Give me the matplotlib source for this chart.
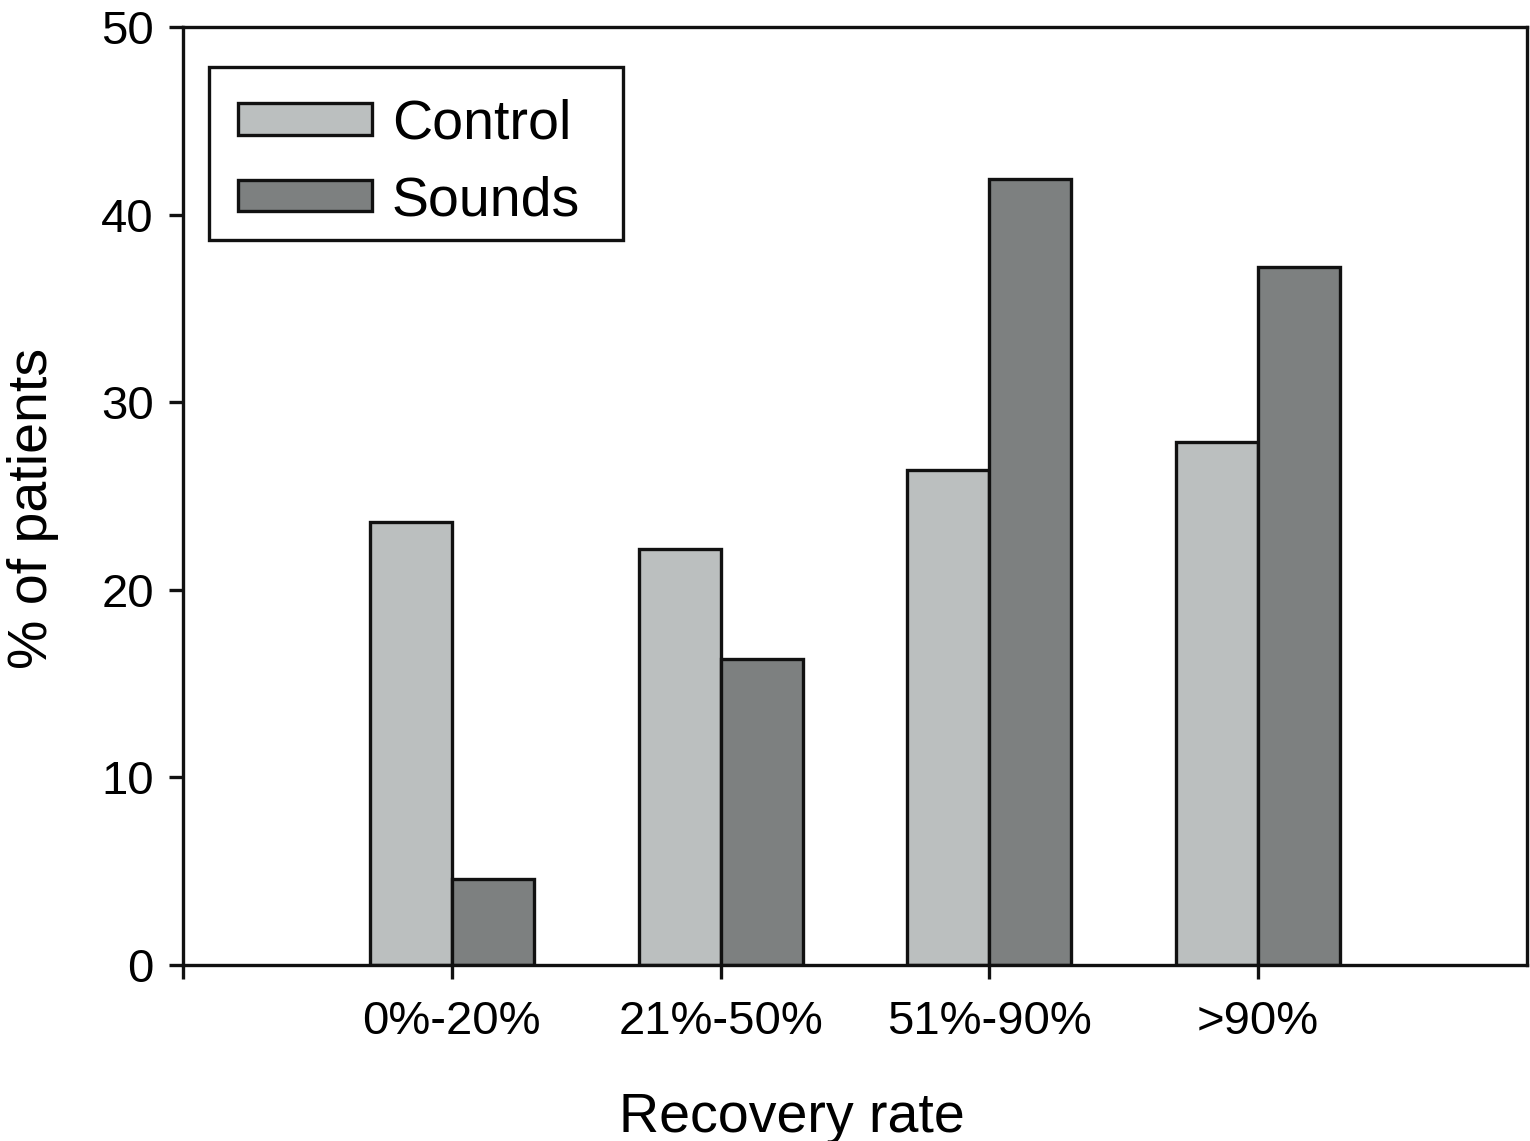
import matplotlib
matplotlib.use("Agg")
import matplotlib.pyplot as plt
from matplotlib.patches import Rectangle
import numpy as np

categories = ["0%-20%", "21%-50%", "51%-90%", ">90%"]
control = [23.6, 22.2, 26.4, 27.9]
sounds = [4.6, 16.3, 41.9, 37.2]
yticks = [0, 10, 20, 30, 40, 50]

plt.rcParams['font.family'] = ['Liberation Sans', 'DejaVu Sans']

fig = plt.figure(figsize=(15.3, 11.41), dpi=100)
ax = fig.add_axes([0.1196, 0.1543, 0.998 - 0.1196, 0.9763 - 0.1543])

x = np.arange(1, len(categories) + 1)
w = 0.305
lw = 2.4
ax.bar(x - w / 2, control, w, color="#bbbfbf", edgecolor="#111111", linewidth=lw, label="Control", zorder=2)
ax.bar(x + w / 2, sounds, w, color="#7d8080", edgecolor="#111111", linewidth=lw, label="Sounds", zorder=2)

ax.set_xlim(0, 5)
ax.set_ylim(0, 50)
ax.set_xticks([0] + list(x))
ax.set_xticklabels([""] + categories, fontsize=34)
ax.set_yticks(yticks)
ax.set_yticklabels([str(t) for t in yticks], fontsize=34)
ax.tick_params(axis="both", direction="out", length=10, width=lw, color="#111111")
ax.tick_params(axis="x", pad=15)
ax.tick_params(axis="y", pad=11)
for s in ax.spines.values():
    s.set_linewidth(lw)
    s.set_color("#111111")

ax.set_xlabel("Recovery rate", fontsize=40)
ax.xaxis.set_label_coords(0.453, -0.135)
ax.set_ylabel("% of patients", fontsize=40)
ax.yaxis.set_label_coords(-0.092, 0.487)

# legend frame drawn separately (asymmetric padding as in reference)
ax.add_patch(Rectangle((0.0193, 0.7729), 0.3081, 0.1844, transform=ax.transAxes,
                       facecolor="white", edgecolor="#111111", linewidth=lw, zorder=4))
leg = ax.legend(loc="upper left", bbox_to_anchor=(0.0409, 0.9234), fontsize=40, frameon=False,
                handlelength=2.41, handleheight=0.5, handletextpad=0.36,
                borderpad=0, labelspacing=0.44, borderaxespad=0)
leg.set_zorder(5)

fig.savefig("out.png", dpi=100)
